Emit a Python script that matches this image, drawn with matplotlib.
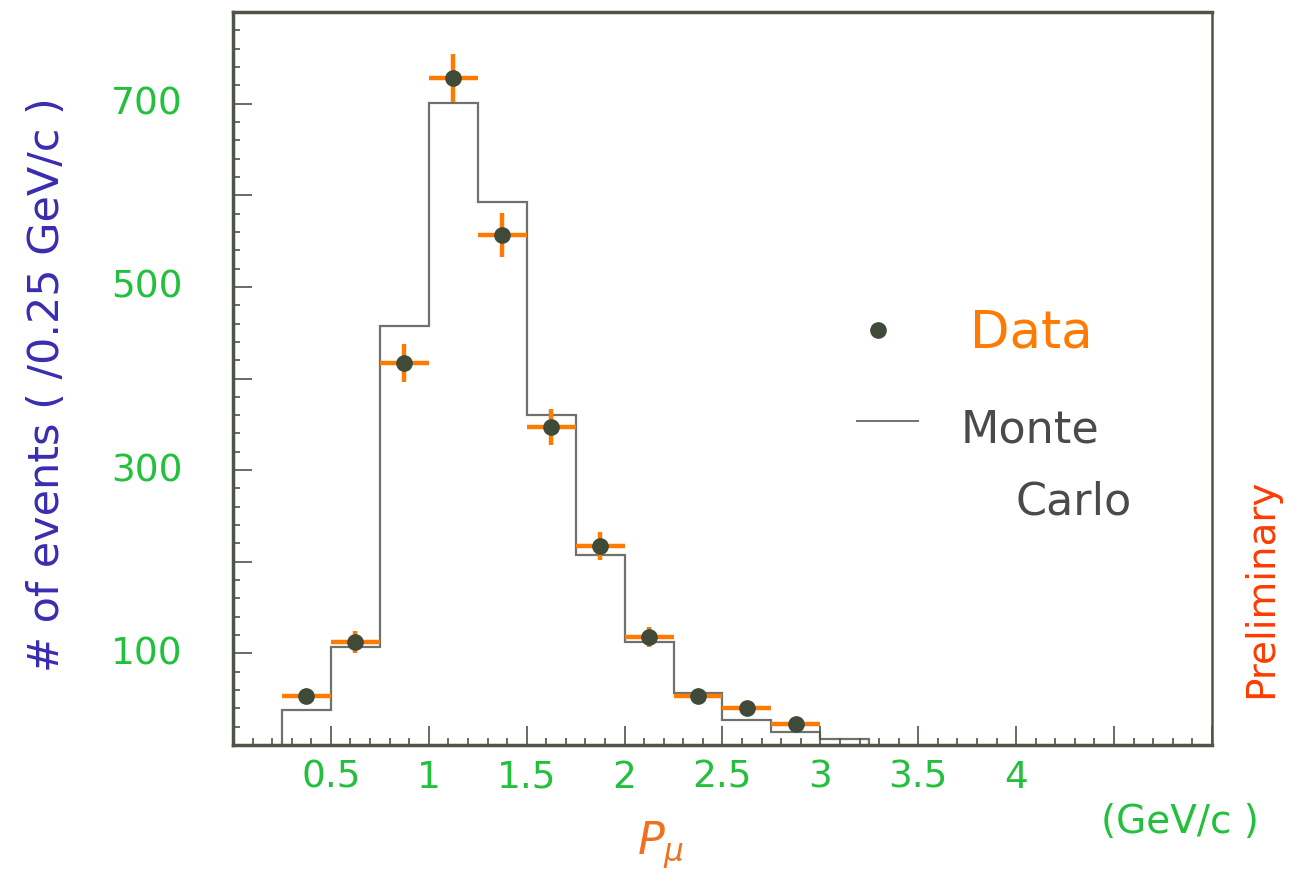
import matplotlib
matplotlib.use("Agg")
import matplotlib.pyplot as plt
from matplotlib.ticker import MultipleLocator

# Monte Carlo histogram (0.25 GeV/c bins)
mc_edges = [0.25, 0.5, 0.75, 1.0, 1.25, 1.5, 1.75, 2.0, 2.25, 2.5, 2.75, 3.0, 3.25]
mc_counts = [38, 107, 457, 701, 593, 360, 207, 112, 57, 27, 14, 7]

# measured points: bin centre, counts, stat. error, half bin width
data_p = [0.375, 0.625, 0.875, 1.125, 1.375, 1.625, 1.875, 2.125, 2.375, 2.625, 2.875]
data_counts = [54, 112, 417, 728, 557, 347, 217, 118, 53, 40, 23]
data_err = [7, 12, 21, 26, 24, 20, 15, 11, 7, 6, 5]
data_xerr = [0.125] * len(data_p)

x_ticks = [0.5, 1, 1.5, 2, 2.5, 3, 3.5, 4]
x_ticklabels = ["0.5", "1", "1.5", "2", "2.5", "3", "3.5", "4"]
y_ticks = [100, 300, 500, 700]
y_ticklabels = ["100", "300", "500", "700"]

GREEN = "#22c03c"
ORANGE = "#ff7a00"
FRAME = "#4d5448"
DOT = "#3f4a38"

fig = plt.figure(figsize=(12.9, 8.79), dpi=100)
ax = fig.add_axes([0.1806, 0.1513, 0.9395 - 0.1806, 0.9852 - 0.1513])

ax.stairs(mc_counts, mc_edges, baseline=0, color="#6f716c", lw=1.6)
ax.errorbar(data_p, data_counts, yerr=data_err, xerr=data_xerr, fmt="o",
            color=DOT, ms=11, ecolor=ORANGE, elinewidth=3.2, capsize=0, zorder=3)

ax.set_xlim(0, 5)
ax.set_ylim(0, 800)

ax.xaxis.set_major_locator(MultipleLocator(0.5))
ax.xaxis.set_minor_locator(MultipleLocator(0.1))
ax.yaxis.set_major_locator(MultipleLocator(100))
ax.yaxis.set_minor_locator(MultipleLocator(20))
ax.tick_params(which="both", direction="in", top=False, right=False,
               color=FRAME, width=1.2)
ax.tick_params(which="major", length=14)
ax.tick_params(which="minor", length=5)
ax.tick_params(axis="both", which="major", labelleft=False, labelbottom=False)

for spine in ax.spines.values():
    spine.set_color(FRAME)
    spine.set_linewidth(2.5)
ax.spines["right"].set_linewidth(1.8)

# hand-written style tick labels
for x, lab in zip(x_ticks, x_ticklabels):
    ax.annotate(lab, (x, 0), xycoords=("data", "axes fraction"),
                xytext=(0, -10), textcoords="offset points",
                ha="center", va="top", fontsize=27, color=GREEN)
for y, lab in zip(y_ticks, y_ticklabels):
    ax.annotate(lab, (0, y), xycoords=("axes fraction", "data"),
                xytext=(-36, 0), textcoords="offset points",
                ha="right", va="center", fontsize=27, color=GREEN)

# legend drawn by hand
ax.plot([0.659], [0.566], "o", color=DOT, ms=11, transform=ax.transAxes)
ax.plot([0.637, 0.700], [0.442, 0.442], color="#6f716c", lw=1.4,
        transform=ax.transAxes)
ax.text(0.753, 0.563, "Data", transform=ax.transAxes, fontsize=37,
        color=ORANGE, va="center", ha="left")
ax.text(0.743, 0.431, "Monte", transform=ax.transAxes, fontsize=32,
        color="#4a4a4a", va="center", ha="left")
ax.text(0.799, 0.333, "Carlo", transform=ax.transAxes, fontsize=32,
        color="#4a4a4a", va="center", ha="left")

fig.text(0.0364, 0.562, "# of events ( /0.25 GeV/c )", rotation=90,
         ha="center", va="center", fontsize=31, color="#3a2cb0")
fig.text(0.512, 0.039, r"$P_{\mu}$", ha="center", va="center",
         fontsize=32, color="#f0701e")
fig.text(0.915, 0.065, "(GeV/c )", ha="center", va="center",
         fontsize=28, color=GREEN)
fig.text(0.978, 0.331, "Preliminary", rotation=90, ha="center", va="center",
         fontsize=28, color="#ff3a00")

fig.savefig("out.png", dpi=100)
